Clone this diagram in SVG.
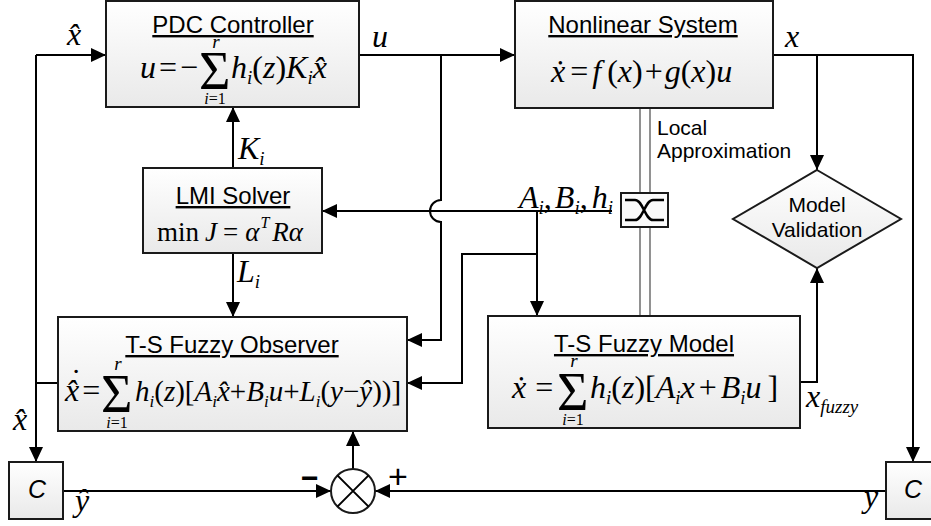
<svg xmlns="http://www.w3.org/2000/svg" width="931" height="526" viewBox="0 0 931 526">
<defs>
<linearGradient id="g" x1="0" y1="0" x2="0" y2="1">
<stop offset="0" stop-color="#ffffff"/>
<stop offset="1" stop-color="#e9e9e9"/>
</linearGradient>
<marker id="ah" markerUnits="userSpaceOnUse" markerWidth="16" markerHeight="14" refX="15" refY="7" orient="auto">
<path d="M0,0 L15,7 L0,14 z" fill="#000"/>
</marker>
<style>
.box{fill:url(#g);stroke:#1a1a1a;stroke-width:2}
.ln{fill:none;stroke:#000;stroke-width:2}
.ar{marker-end:url(#ah)}
.gl{fill:none;stroke:#777;stroke-width:1.6}
.t{font-family:"Liberation Sans",Arial,sans-serif;font-size:24px;text-anchor:middle;text-decoration:underline;fill:#000}
.sn{font-family:"Liberation Sans",Arial,sans-serif;font-size:21px;fill:#000}
.m{font-family:"Liberation Serif","Times New Roman",serif;font-size:32px;fill:#000}
.i{font-style:italic}
.s{font-size:19px}
.lim{font-size:16px;text-anchor:middle}
.sg{font-size:54px}
.c{text-anchor:middle}
</style>
</defs>

<g id="connectors">
<path class="ln ar" d="M36,55 H106"/>
<path class="ln" d="M58,383 H36"/>
<path class="ln ar" d="M36,55 V462"/>
<path class="ln ar" d="M359,55 H515"/>
<path class="ln ar" d="M441,55 V200 A11,11 0 0 0 441,222 V340 H407"/>
<path class="ln ar" d="M612,211 H322"/>
<path class="ln ar" d="M537,211 V316"/>
<path class="ln ar" d="M537,254 H462 V383 H407"/>
<path class="ln ar" d="M233,168 V107"/>
<path class="ln ar" d="M233,253 V317"/>
<path class="ln ar" d="M773,55 H913 V462"/>
<path class="ln ar" d="M817,55 V170"/>
<path class="ln ar" d="M800,382 H817 V268"/>
<path class="ln ar" d="M63,491 H331"/>
<path class="ln ar" d="M886,491 H375"/>
<path class="ln ar" d="M353,469 V431"/>
<path class="gl" d="M640,108 V316 M650,108 V316"/>
</g>

<g id="pdc">
<rect class="box" x="106" y="1" width="253" height="106"/>
<text class="t" x="233" y="33">PDC Controller</text>
<text class="m" x="140" y="78"><tspan class="i">u</tspan><tspan dx="3">=</tspan><tspan dx="3">−</tspan></text>
<text class="m sg" x="199" y="89">Σ</text>
<text class="m i s c" x="216" y="48">r</text>
<text class="m lim" x="215" y="104"><tspan class="i">i</tspan>=1</text>
<text class="m" x="231" y="78"><tspan class="i">h</tspan><tspan class="i s" dy="6">i</tspan><tspan dy="-6">(</tspan><tspan class="i">z</tspan>)<tspan class="i">K</tspan><tspan class="i s" dy="6">i</tspan><tspan class="i" dy="-6">x&#x302;</tspan></text>
</g>

<g id="nonlinear">
<rect class="box" x="515" y="1" width="258" height="107"/>
<text class="t" x="643" y="33">Nonlinear System</text>
<text class="m" x="551" y="82"><tspan class="i">x&#x307;</tspan><tspan dx="5">=</tspan><tspan class="i" dx="4">f</tspan><tspan dx="6">(</tspan><tspan class="i">x</tspan>)<tspan dx="2">+</tspan><tspan class="i" dx="2">g</tspan>(<tspan class="i">x</tspan>)<tspan class="i">u</tspan></text>
</g>

<g id="lmi">
<rect class="box" x="143" y="168" width="179" height="85"/>
<text class="t" x="233" y="204">LMI Solver</text>
<text class="m" style="font-size:27px" x="157" y="241">min<tspan class="i" dx="6">J</tspan><tspan dx="6">=</tspan><tspan class="i" dx="7">α</tspan><tspan class="i" style="font-size:16px" dx="1" dy="-13">T</tspan><tspan class="i" dx="3" dy="13">R</tspan><tspan class="i">α</tspan></text>
</g>

<g id="observer">
<rect class="box" x="58" y="317" width="349" height="114"/>
<text class="t" x="232" y="353">T-S Fuzzy Observer</text>
<text class="m" x="65" y="401"><tspan class="i">x&#x302;</tspan><tspan dx="3">=</tspan></text>
<text class="m c" x="76" y="391">˙</text>
<text class="m sg" x="101" y="412">Σ</text>
<text class="m i s c" x="118" y="370">r</text>
<text class="m lim" x="117" y="428"><tspan class="i">i</tspan>=1</text>
<text class="m" style="font-size:29px" x="135" y="401"><tspan class="i">h</tspan><tspan class="i" style="font-size:17px" dy="6">i</tspan><tspan dy="-6">(</tspan><tspan class="i">z</tspan>)[<tspan class="i">A</tspan><tspan class="i" style="font-size:17px" dy="6">i</tspan><tspan class="i" dy="-6">x&#x302;</tspan>+<tspan class="i">B</tspan><tspan class="i" style="font-size:17px" dy="6">i</tspan><tspan class="i" dy="-6">u</tspan>+<tspan class="i">L</tspan><tspan class="i" style="font-size:17px" dy="6">i</tspan><tspan dy="-6">(</tspan><tspan class="i">y</tspan>−<tspan class="i">ŷ</tspan>))]</text>
</g>

<g id="fuzzymodel">
<rect class="box" x="488" y="316" width="312" height="112"/>
<text class="t" x="644" y="352">T-S Fuzzy Model</text>
<text class="m" x="512" y="398"><tspan class="i">x&#x307;</tspan><tspan dx="9">=</tspan></text>
<text class="m sg" x="557" y="410">Σ</text>
<text class="m i s c" x="574" y="367">r</text>
<text class="m lim" x="573" y="425"><tspan class="i">i</tspan>=1</text>
<text class="m" x="590" y="398"><tspan class="i">h</tspan><tspan class="i s" dy="6">i</tspan><tspan dy="-6">(</tspan><tspan class="i">z</tspan>)[<tspan class="i">A</tspan><tspan class="i s" dy="6">i</tspan><tspan class="i" dy="-6">x</tspan><tspan dx="4">+</tspan><tspan class="i" dx="4">B</tspan><tspan class="i s" dy="6">i</tspan><tspan class="i" dy="-6">u</tspan><tspan dx="6">]</tspan></text>
</g>

<g id="validation">
<polygon class="box" points="817,170 901,219 817,268 733,219"/>
<text class="sn c" x="817" y="212">Model</text>
<text class="sn c" x="817" y="237">Validation</text>
</g>

<g id="switch">
<rect class="box" x="621" y="193" width="47" height="34" style="fill:#fafafa"/>
<path d="M625,200 H635 C643,200 645,220 653,220 H664 M625,220 H635 C643,220 645,200 653,200 H664" fill="none" stroke="#000" stroke-width="2.5"/>
</g>

<g id="sum">
<circle cx="353" cy="491" r="22" fill="#fff" stroke="#1a1a1a" stroke-width="2"/>
<path d="M337.4,475.4 L368.6,506.6 M368.6,475.4 L337.4,506.6" stroke="#000" stroke-width="2"/>
<text x="301" y="488" style="font-family:'Liberation Sans',Arial,sans-serif;font-size:30px;font-weight:bold">−</text>
<text x="388" y="488" style="font-family:'Liberation Sans',Arial,sans-serif;font-size:34px">+</text>
</g>

<g id="c-left">
<rect class="box" x="9" y="462" width="54" height="57"/>
<text class="c" x="37" y="498" style="font-family:'Liberation Sans',Arial,sans-serif;font-size:25px;font-style:italic">C</text>
</g>

<g id="c-right">
<rect class="box" x="886" y="462" width="54" height="57"/>
<text class="c" x="913" y="498" style="font-family:'Liberation Sans',Arial,sans-serif;font-size:25px;font-style:italic">C</text>
</g>

<g id="labels">
<text class="m i" x="372" y="47">u</text>
<text class="m i" x="785" y="47">x</text>
<text class="m i" x="67" y="45">x&#x302;</text>
<text class="m i" x="13" y="430">x&#x302;</text>
<text class="m i" x="75" y="511">ŷ</text>
<text class="m i" x="864" y="507">y</text>
<text class="m" x="238" y="159"><tspan class="i">K</tspan><tspan class="i s" dy="6">i</tspan></text>
<text class="m" x="237" y="282"><tspan class="i">L</tspan><tspan class="i s" dy="6">i</tspan></text>
<text class="m" x="519" y="208"><tspan class="i">A</tspan><tspan class="i s" dy="6">i</tspan><tspan dy="-6">,</tspan><tspan class="i" dx="3">B</tspan><tspan class="i s" dy="6">i</tspan><tspan dy="-6">,</tspan><tspan class="i" dx="4">h</tspan><tspan class="i s" dy="6">i</tspan></text>
<text class="m" x="806" y="407"><tspan class="i">x</tspan><tspan class="i s" dy="6">fuzzy</tspan></text>
<text class="sn" x="657" y="135">Local</text>
<text class="sn" x="657" y="158">Approximation</text>
</g>
</svg>
